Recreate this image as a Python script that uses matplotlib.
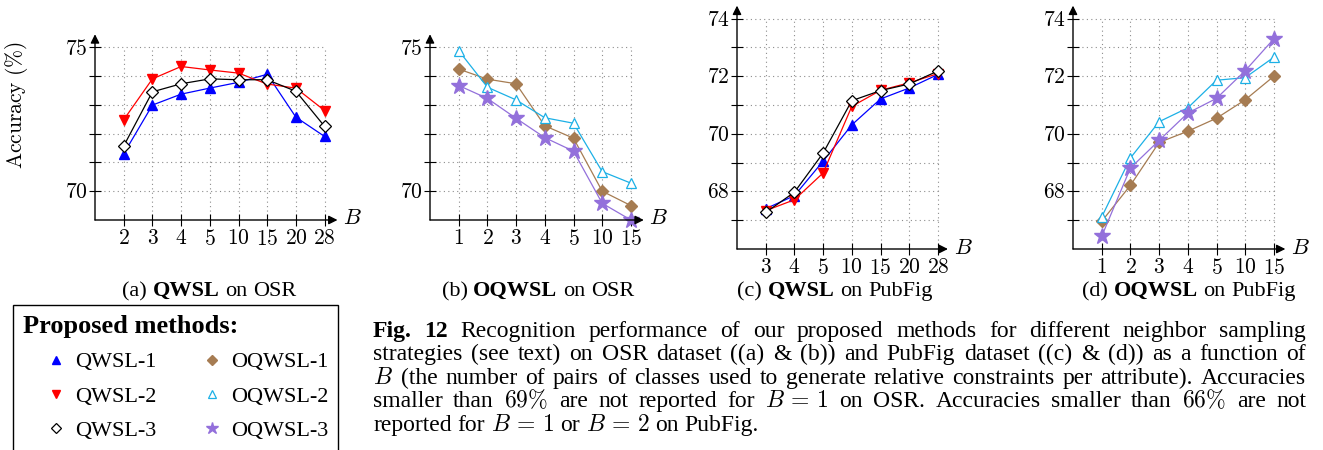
import re
import matplotlib
matplotlib.use("Agg")
import matplotlib.pyplot as plt
from matplotlib.lines import Line2D

plt.rcParams['font.family'] = ['Liberation Serif', 'DejaVu Serif']
plt.rcParams['mathtext.fontset'] = 'cm'

# ---- data ----
osr_q_labels = ['2', '3', '4', '5', '10', '15', '20', '28']
osr_oq_labels = ['1', '2', '3', '4', '5', '10', '15']
pub_q_labels = ['3', '4', '5', '10', '15', '20', '28']
pub_oq_labels = ['1', '2', '3', '4', '5', '10', '15']

osr_qwsl1 = [71.30, 72.99, 73.37, 73.58, 73.78, 74.06, 72.57, 71.90]
osr_qwsl2 = [72.48, 73.90, 74.33, 74.21, 74.10, 73.72, 73.58, 72.80]
osr_qwsl3 = [71.57, 73.45, 73.73, 73.90, 73.87, 73.87, 73.47, 72.25]

osr_oqwsl1 = [74.24, 73.89, 73.73, 72.27, 71.84, 70.00, 69.50]
osr_oqwsl2 = [74.88, 73.61, 73.17, 72.55, 72.36, 70.68, 70.28]
osr_oqwsl3 = [73.67, 73.22, 72.53, 71.86, 71.39, 69.58, 69.00]

pub_qwsl1 = [67.40, 67.85, 69.05, 70.31, 71.21, 71.59, 72.06]
pub_qwsl2 = [67.33, 67.71, 68.64, 70.95, 71.51, 71.77, 72.09]
pub_qwsl3 = [67.27, 67.97, 69.33, 71.15, 71.50, 71.73, 72.18]

pub_oqwsl1 = [66.96, 68.21, 69.70, 70.09, 70.54, 71.18, 72.00]
pub_oqwsl2 = [67.11, 69.16, 70.42, 70.90, 71.86, 71.95, 72.66]
pub_oqwsl3 = [66.44, 68.81, 69.77, 70.72, 71.23, 72.19, 73.30]

# ---- styles ----
BLUE, RED, BLACK = '#0000ff', '#ff0000', '#000000'
BROWN, CYAN, PURPLE = '#a67c52', '#1cb0e6', '#9370db'
sty_q1 = dict(color=BLUE, marker='^', ms=7, mfc=BLUE, mec=BLUE)
sty_q2 = dict(color=RED, marker='v', ms=7, mfc=RED, mec=RED)
sty_q3 = dict(color=BLACK, marker='D', ms=6.5, mfc='white', mec=BLACK, mew=0.9)
sty_o1 = dict(color=BROWN, marker='D', ms=6.5, mfc=BROWN, mec=BROWN)
sty_o2 = dict(color=CYAN, marker='^', ms=7, mfc='white', mec=CYAN, mew=0.9)
sty_o3 = dict(color=PURPLE, marker='*', ms=12, mfc=PURPLE, mec=PURPLE)

W, H = 1323, 450
fig = plt.figure(figsize=(W / 100, H / 100), dpi=100)
XU, YU = 28.7, 28.8  # pixels per unit


def make_axes(left, bottom, xmax, ymin, ymax):
    w = xmax * XU
    h = (ymax - ymin) * YU
    ax = fig.add_axes([left / W, (H - bottom) / H, w / W, h / H])
    ax.set_xlim(0, xmax)
    ax.set_ylim(ymin, ymax)
    ax.patch.set_alpha(0)
    return ax


def panel(ax, labels, series, ymin, ytop, ylabeled):
    xs = list(range(1, len(labels) + 1))
    xmax = ax.get_xlim()[1]
    ymax = ax.get_ylim()[1]
    for s in ax.spines.values():
        s.set_visible(False)
    grid = dict(colors='#8c8c8c', linestyles=(0, (1, 3)), lw=0.8, zorder=0)
    ax.hlines(range(ymin + 1, ytop + 1), 0, len(labels), **grid)
    ax.vlines(xs, ymin, ytop, **grid)
    for vals, st in series:
        ax.plot(xs, vals, lw=0.9, clip_on=False, zorder=3, **st)
    arr = dict(arrowstyle='-|>', color='k', lw=1.0, mutation_scale=13,
               shrinkA=0, shrinkB=0)
    ax.annotate('', xy=(xmax, ymin), xytext=(0, ymin), arrowprops=arr,
                annotation_clip=False)
    ax.annotate('', xy=(0, ymax), xytext=(0, ymin), arrowprops=arr,
                annotation_clip=False)
    ax.annotate('$B$', xy=(xmax, ymin), xytext=(4, 0), textcoords='offset points',
                fontsize=16, va='center', ha='left', annotation_clip=False)
    ax.set_xticks(xs, ['$%s$' % l for l in labels])
    yt = list(range(ymin + 1, ytop + 1))
    ax.set_yticks(yt, ['$%d$' % v if v in ylabeled else '' for v in yt])
    ax.tick_params(direction='inout', length=8.5, width=0.8, labelsize=15.5,
                   color='k')
    ax.tick_params(axis='x', pad=3)
    ax.tick_params(axis='y', pad=1)


ax_a = make_axes(95, 220, 8.45, 69, 75.45)
panel(ax_a, osr_q_labels,
      [(osr_qwsl1, sty_q1), (osr_qwsl2, sty_q2), (osr_qwsl3, sty_q3)],
      69, 75, [70, 75])

ax_b = make_axes(430, 220, 7.45, 69, 75.45)
panel(ax_b, osr_oq_labels,
      [(osr_oqwsl1, sty_o1), (osr_oqwsl2, sty_o2), (osr_oqwsl3, sty_o3)],
      69, 75, [70, 75])

ax_c = make_axes(737, 249, 7.35, 66, 74.45)
panel(ax_c, pub_q_labels,
      [(pub_qwsl1, sty_q1), (pub_qwsl2, sty_q2), (pub_qwsl3, sty_q3)],
      66, 74, [68, 70, 72, 74])

ax_d = make_axes(1073, 249, 7.4, 66, 74.45)
panel(ax_d, pub_oq_labels,
      [(pub_oqwsl1, sty_o1), (pub_oqwsl2, sty_o2), (pub_oqwsl3, sty_o3)],
      66, 74, [68, 70, 72, 74])

fig.text(17 / W, 1 - 105 / H, r'$\mathrm{Accuracy\ (\%)}$', rotation=90,
         ha='center', va='center', fontsize=15.5)

# ---- text helpers (word-by-word layout) ----
renderer = fig.canvas.get_renderer()


def text_w(s, size, bold=False):
    t = fig.text(0, 0, s, fontsize=size, fontweight='bold' if bold else 'normal')
    w = t.get_window_extent(renderer).width
    t.remove()
    return w


def word_row(tokens, x, base_y, size, width=None, center=False):
    objs = [fig.text(0, 1 - base_y / H, s, fontsize=size, va='baseline',
                     fontweight='bold' if b else 'normal') for s, b in tokens]
    ws = [o.get_window_extent(renderer).width for o in objs]
    gap = text_w('a a', size) - text_w('aa', size)
    if width is not None and len(ws) > 1:
        gap = (width - sum(ws)) / (len(ws) - 1)
    total = sum(ws) + gap * (len(ws) - 1)
    x0 = x - total / 2 if center else x
    for o, w in zip(objs, ws):
        o.set_x(x0 / W)
        x0 += w + gap


# subplot captions
cap_size = 16
word_row([('(a)', False), ('QWSL', True), ('on', False), ('OSR', False)], 209, 296, cap_size, center=True)
word_row([('(b)', False), ('OQWSL', True), ('on', False), ('OSR', False)], 538, 296, cap_size, center=True)
word_row([('(c)', False), ('QWSL', True), ('on', False), ('PubFig', False)], 835, 296, cap_size, center=True)
word_row([('(d)', False), ('OQWSL', True), ('on', False), ('PubFig', False)], 1189, 296, cap_size, center=True)

# figure caption, justified
caption_lines = [
    'Fig. 12 Recognition performance of our proposed methods for different neighbor sampling',
    'strategies (see text) on OSR dataset ((a) & (b)) and PubFig dataset ((c) & (d)) as a function of',
    '$B$ (the number of pairs of classes used to generate relative constraints per attribute). Accuracies',
    r'smaller than $69\%$ are not reported for $B\,=\,1$ on OSR. Accuracies smaller than $66\%$ are not',
    r'reported for $B\,=\,1$ or $B\,=\,2$ on PubFig.',
]
caption_base = [337, 360, 384, 407, 431]
for i, (line, by) in enumerate(zip(caption_lines, caption_base)):
    toks = re.findall(r'\$[^$]*\$\S*|\S+', line)
    toks = [(t, i == 0 and k < 2) for k, t in enumerate(toks)]
    last = i == len(caption_lines) - 1
    word_row(toks, 373, by, 17, width=None if last else 933)

# ---- legend ----
handles = [Line2D([], [], ls='none', **st) for st in
           (sty_q1, sty_q2, sty_q3, sty_o1, sty_o2, sty_o3)]
names = ['QWSL-1', 'QWSL-2', 'QWSL-3', 'OQWSL-1', 'OQWSL-2', 'OQWSL-3']
leg = fig.legend(handles, names, ncol=2, loc='upper left',
                 bbox_to_anchor=(13 / W, 1 - 305 / H), borderaxespad=0,
                 title='Proposed methods:', alignment='left',
                 title_fontproperties=dict(weight='bold', size=19),
                 prop=dict(size=16), markerscale=0.75, numpoints=1,
                 handlelength=3.0, handletextpad=-0.65, columnspacing=1.0,
                 labelspacing=0.62, borderpad=0.45, fancybox=False,
                 edgecolor='k', framealpha=1)
leg.get_frame().set_linewidth(1.0)

fig.savefig('out.png', dpi=100)
